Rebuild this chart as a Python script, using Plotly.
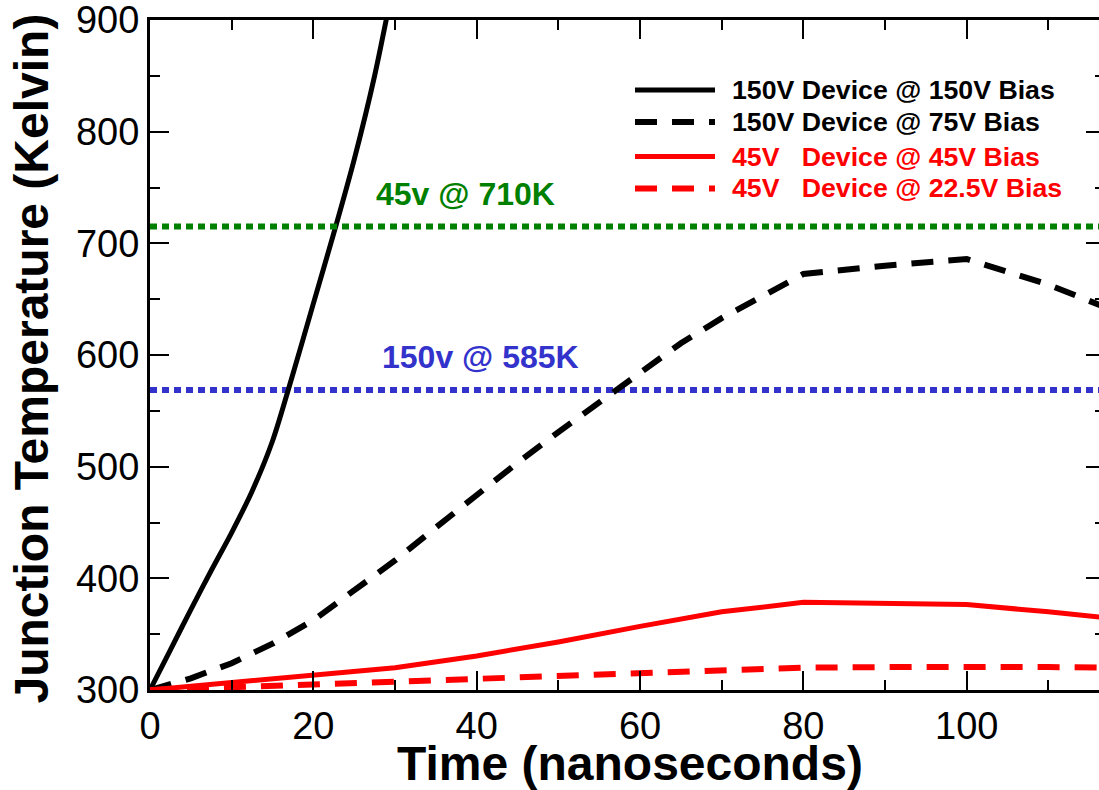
import plotly.graph_objects as go

# ---------------- data ----------------
time_150v_150v = [0, 2.5, 5, 7.5, 10, 12.5, 15, 17.5, 20, 22.5, 25, 27.5, 30]
temp_150v_150v = [300, 336, 372, 407, 441, 478, 523, 583, 646, 709, 775, 850, 940]

time_150v_75v = [0, 5, 10, 15, 20, 25, 30, 35, 40, 45, 50, 55, 60, 65, 70, 80, 90, 100, 110, 120]
temp_150v_75v = [300, 310.5, 324, 341.5, 362.5, 388.5, 416, 445.5, 475, 503.5, 531, 557.5, 584.5, 610.5, 633, 672.5, 680, 686, 663, 634]

time_45v_45v = [0, 10, 20, 30, 40, 50, 60, 70, 80, 90, 100, 110, 120]
temp_45v_45v = [300, 306.5, 313, 320, 330.5, 343, 357, 370, 378.5, 378, 376.5, 370, 362.5]

time_45v_22v = [0, 10, 20, 30, 40, 50, 60, 70, 80, 90, 100, 110, 120]
temp_45v_22v = [300, 302.5, 305, 307.5, 310, 313, 316, 318.5, 320, 320.5, 321, 320.5, 320]

limit_45v = 715      # green dotted reference line
limit_150v = 568.6   # blue dotted reference line
limit_x = [0, 120]

series_names = [
    "150V Device @ 150V Bias",
    "150V Device @ 75V Bias",
    "45V\u00a0\u00a0\u00a0Device @ 45V Bias",
    "45V\u00a0\u00a0\u00a0Device @ 22.5V Bias",
]
label_45v = "45v @ 710K"
label_150v = "150v @ 585K"
x_title = "Time (nanoseconds)"
y_title = "Junction Temperature (Kelvin)"

x_ticks = [0, 20, 40, 60, 80, 100]
y_ticks = [300, 400, 500, 600, 700, 800, 900]

# ---------------- styling ----------------
FONT = "Liberation Sans, Arial, Helvetica, sans-serif"
BLACK = "#000000"
RED = "#ff0000"
GREEN = "#008000"
BLUE = "#3333cc"
DASH = "22px,15px"
DOT = "7px,5px"

W, H = 1099, 790
ML, MR, MT, MB = 150, 0, 20, 100
PW, PH = W - ML - MR, H - MT - MB


def px_x(px):
    return (px - ML) / PW


def px_y(py):
    return (H - MB - py) / PH


fig = go.Figure()

fig.add_trace(go.Scatter(x=limit_x, y=[limit_45v, limit_45v], mode="lines",
                         line=dict(color=GREEN, width=6, dash=DOT), showlegend=False,
                         yaxis="y2"))
fig.add_trace(go.Scatter(x=limit_x, y=[limit_150v, limit_150v], mode="lines",
                         line=dict(color=BLUE, width=6, dash=DOT), showlegend=False))

series = [
    (time_150v_150v, temp_150v_150v, BLACK, "solid", 5, "spline"),
    (time_150v_75v, temp_150v_75v, BLACK, DASH, 6, "linear"),
    (time_45v_45v, temp_45v_45v, RED, "solid", 5, "linear"),
    (time_45v_22v, temp_45v_22v, RED, DASH, 6, "linear"),
]
for (xs, ys, col, dash, lw, shp), name in zip(series, series_names):
    fig.add_trace(go.Scatter(x=xs, y=ys, mode="lines", name=name,
                             line=dict(color=col, width=lw, dash=dash, shape=shp,
                                       smoothing=0.8 if shp == "spline" else None),
                             showlegend=False))

# ---------------- manual legend ----------------
legend_rows = [90, 122, 156.5, 188.5]
shapes = []
annotations = []
for (xs, ys, col, dash, lw, shp), name, ry in zip(series, series_names, legend_rows):
    shapes.append(dict(type="line", xref="paper", yref="paper",
                       x0=px_x(635), x1=px_x(715), y0=px_y(ry), y1=px_y(ry),
                       line=dict(color=col, width=lw, dash=dash)))
    annotations.append(dict(text=name, xref="paper", yref="paper",
                            x=px_x(730), y=px_y(ry), xanchor="left", yanchor="middle",
                            showarrow=False,
                            font=dict(family=FONT, size=26.7, color=col, weight="bold")))

# reference-line labels
annotations.append(dict(text=label_45v, x=38.6, y=744.6, xref="x", yref="y",
                        xanchor="center", yanchor="middle", showarrow=False,
                        font=dict(family=FONT, size=32, color=GREEN, weight="bold")))
annotations.append(dict(text=label_150v, x=40.5, y=597.8, xref="x", yref="y",
                        xanchor="center", yanchor="middle", showarrow=False,
                        font=dict(family=FONT, size=32, color=BLUE, weight="bold")))

# axis titles
annotations.append(dict(text=x_title, xref="paper", yref="paper",
                        x=px_x(630), y=px_y(763), xanchor="center", yanchor="middle",
                        showarrow=False,
                        font=dict(family=FONT, size=48, color=BLACK, weight="bold")))
annotations.append(dict(text=y_title, xref="paper", yref="paper", textangle=-90,
                        x=px_x(31), y=px_y(358.5), xanchor="center", yanchor="middle",
                        showarrow=False,
                        font=dict(family=FONT, size=48, color=BLACK, weight="bold")))

tickfont = dict(family=FONT, size=38, color=BLACK)

fig.update_layout(
    width=W, height=H,
    margin=dict(l=ML, r=MR, t=MT, b=MB, pad=0),
    paper_bgcolor="white", plot_bgcolor="white",
    showlegend=False,
    shapes=shapes,
    annotations=annotations,
    xaxis=dict(range=[0, PW / 8.167], tickvals=x_ticks, ticktext=[str(v) for v in x_ticks],
               showline=True, linewidth=3, linecolor=BLACK, mirror="ticks",
               ticks="inside", ticklen=19, tickwidth=2, tickcolor=BLACK,
               minor=dict(dtick=10, tick0=0, ticks="inside", ticklen=10, tickwidth=2,
                          tickcolor=BLACK, showgrid=False),
               tickfont=tickfont, ticklabeloverflow="allow",
               showgrid=False, zeroline=False, fixedrange=True),
    yaxis=dict(range=[300, 900], tickvals=y_ticks, ticktext=[str(v) for v in y_ticks],
               showline=True, linewidth=3, linecolor=BLACK, mirror=False,
               ticks="inside", ticklen=19, tickwidth=2, tickcolor=BLACK,
               minor=dict(dtick=50, tick0=0, ticks="inside", ticklen=10, tickwidth=2,
                          tickcolor=BLACK, showgrid=False),
               tickfont=tickfont, ticklabeloverflow="allow",
               showgrid=False, zeroline=False, fixedrange=True),
    yaxis2=dict(range=[300, 900], overlaying="y", side="right", anchor="x",
                showline=False, ticks="inside", ticklen=13, tickwidth=2, tickcolor=BLACK,
                dtick=100, tick0=0,
                minor=dict(dtick=50, tick0=0, ticks="inside", ticklen=4, tickwidth=2,
                           tickcolor=BLACK, showgrid=False),
                showticklabels=False, showgrid=False, zeroline=False, fixedrange=True),
)

fig.write_html("out.html")
